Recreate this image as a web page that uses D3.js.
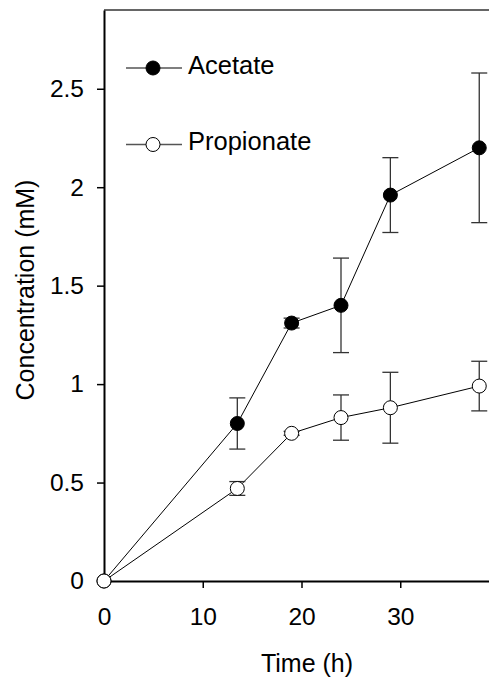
<!DOCTYPE html>
<html lang="en">
<head>
  <meta charset="UTF-8">
  <title>Acetate and Propionate Concentration</title>
  <script src="https://cdn.jsdelivr.net/npm/d3@7"></script>
  <style>
    body {
      margin: 0;
      background-color: #fff;
      font-family: Arial, "Liberation Sans", sans-serif;
    }
    .axis path, .axis line {
      stroke: #000;
    }
    .axis text {
      fill: #000;
      font-size: 24.5px;
      font-family: Arial, "Liberation Sans", sans-serif;
    }
  </style>
</head>
<body>
  <div id="chart"></div>
  <script>
    // Data
    const times = [0, 13.5, 19, 24, 29, 38];
    const acetate = [0, 0.80, 1.31, 1.40, 1.96, 2.20];
    const acetateErr = [0, 0.13, 0.025, 0.24, 0.19, 0.38];
    const propionate = [0, 0.47, 0.75, 0.83, 0.88, 0.99];
    const propionateErr = [0, 0.035, 0.01, 0.115, 0.18, 0.126];
    const xTicks = [0, 10, 20, 30];
    const yTicks = [0, 0.5, 1, 1.5, 2, 2.5];

    const series = [
      { name: "Acetate", values: acetate, err: acetateErr, fill: "#000" },
      { name: "Propionate", values: propionate, err: propionateErr, fill: "#fff" }
    ];

    const W = 489, H = 680;
    const margin = { top: 10, left: 104, bottom: 99 };

    const svg = d3.select("#chart")
      .append("svg")
      .attr("width", W)
      .attr("height", H);

    const x = d3.scaleLinear()
      .domain([0, 40])
      .range([margin.left, margin.left + 395]);

    const y = d3.scaleLinear()
      .domain([0, 2.9])
      .range([H - margin.bottom, margin.top]);

    // top frame line
    svg.append("line")
      .attr("x1", x(0)).attr("x2", W)
      .attr("y1", y(2.9)).attr("y2", y(2.9))
      .attr("stroke", "#666")
      .attr("stroke-width", 2);

    // axes
    const xAxis = svg.append("g")
      .attr("class", "axis")
      .attr("transform", `translate(0,${y(0)})`)
      .call(d3.axisBottom(x).tickValues(xTicks).tickFormat(d3.format("d"))
        .tickSizeInner(7).tickSizeOuter(0).tickPadding(20));
    xAxis.select(".domain").attr("stroke-width", 2);
    xAxis.selectAll(".tick line").attr("stroke", "#444").attr("stroke-width", 1.5);

    const yAxis = svg.append("g")
      .attr("class", "axis")
      .attr("transform", `translate(${x(0)},0)`)
      .call(d3.axisLeft(y).tickValues(yTicks).tickFormat(d => String(d))
        .tickSizeInner(7).tickSizeOuter(0).tickPadding(13));
    yAxis.select(".domain").attr("stroke-width", 2);
    yAxis.selectAll(".tick line").attr("stroke", "#444").attr("stroke-width", 1.5);

    // axis titles
    svg.append("text")
      .attr("x", 307)
      .attr("y", 672)
      .attr("text-anchor", "middle")
      .style("font-size", "25px")
      .text("Time (h)");

    svg.append("text")
      .attr("transform", `translate(34,290) rotate(-90)`)
      .attr("text-anchor", "middle")
      .style("font-size", "25px")
      .text("Concentration (mM)");

    const line = d3.line()
      .x((d, i) => x(times[i]))
      .y(d => y(d));

    series.forEach(s => {
      svg.append("path")
        .datum(s.values)
        .attr("fill", "none")
        .attr("stroke", "#000")
        .attr("stroke-width", 1)
        .attr("d", line);

      const eb = svg.append("g")
        .attr("stroke", "#333")
        .attr("stroke-width", 1.3);

      s.values.forEach((v, i) => {
        if (s.err[i] <= 0) return;
        const cx = x(times[i]);
        eb.append("line")
          .attr("x1", cx).attr("x2", cx)
          .attr("y1", y(v - s.err[i])).attr("y2", y(v + s.err[i]));
        [v - s.err[i], v + s.err[i]].forEach(e => {
          eb.append("line")
            .attr("x1", cx - 8).attr("x2", cx + 8)
            .attr("y1", y(e)).attr("y2", y(e));
        });
      });

      svg.append("g")
        .selectAll("circle")
        .data(s.values)
        .enter()
        .append("circle")
        .attr("cx", (d, i) => x(times[i]))
        .attr("cy", d => y(d))
        .attr("r", 7)
        .attr("fill", s.fill)
        .attr("stroke", "#000")
        .attr("stroke-width", 1);
    });

    // legend
    const legend = svg.append("g");
    series.forEach((s, i) => {
      const ly = 68 + i * 76.5;
      legend.append("line")
        .attr("x1", 126).attr("x2", 182)
        .attr("y1", ly).attr("y2", ly)
        .attr("stroke", "#555")
        .attr("stroke-width", 1.3);
      legend.append("circle")
        .attr("cx", 153).attr("cy", ly)
        .attr("r", 7)
        .attr("fill", s.fill)
        .attr("stroke", "#000");
      legend.append("text")
        .attr("x", 188)
        .attr("y", ly + 5.5)
        .style("font-size", "25.5px")
        .text(s.name);
    });
  </script>
</body>
</html>
